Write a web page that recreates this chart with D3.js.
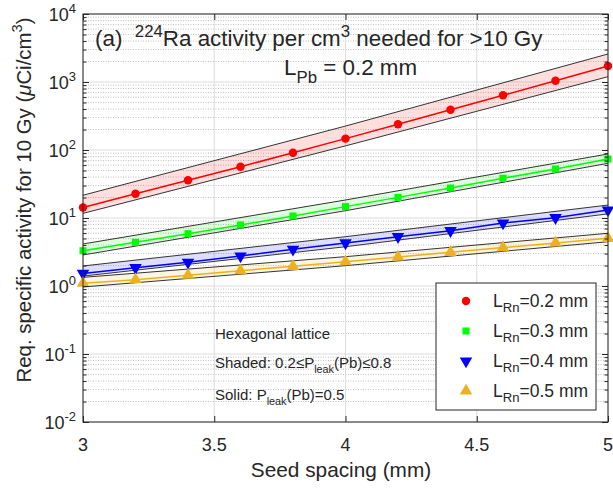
<!DOCTYPE html>
<html>
<head>
<meta charset="utf-8">
<script src="https://cdn.jsdelivr.net/npm/d3@7.9.0/dist/d3.min.js"></script>
<style>
  html, body { margin: 0; padding: 0; background: #fff; }
  svg { display: block; font-family: "Liberation Sans", Arial, Helvetica, sans-serif; }
  text { white-space: pre; fill: #262626; }
</style>
</head>
<body>
<svg id="chart" width="613" height="489"></svg>
<script>
// seed spacing (mm)
const spacing = [3, 3.2, 3.4, 3.6, 3.8, 4, 4.2, 4.4, 4.6, 4.8, 5];

// required activity (uCi/cm3), P_leak(Pb)=0.5
const actRn02 = [14.3, 22.8, 35.8, 56.8, 91.2, 147, 239, 391, 637, 1045, 1718];
const actRn03 = [3.30, 4.39, 5.88, 7.89, 10.7, 14.7, 20.1, 27.6, 38.4, 52.6, 73.7];
const actRn04 = [1.53, 1.86, 2.23, 2.76, 3.47, 4.29, 5.31, 6.50, 8.44, 10.1, 13.1];
const actRn05 = [1.10, 1.24, 1.44, 1.68, 1.95, 2.28, 2.67, 3.13, 3.67, 4.29, 5.03];

// shaded band, P_leak(Pb) from 0.2 to 0.8
const bandSpacing = [3, 4, 5];
const upperRn02 = [21.6, 225, 2580];
const lowerRn02 = [11.7, 115, 1197];
const upperRn03 = [4.15, 18.4, 87.4];
const lowerRn03 = [2.86, 12.8, 63.7];
const upperRn04 = [1.97, 5.31, 15.5];
const lowerRn04 = [1.40, 3.78, 11.5];
const upperRn05 = [1.34, 2.70, 5.96];
const lowerRn05 = [0.967, 1.99, 4.48];

const lRn = ['0.2', '0.3', '0.4', '0.5'];
const colors = ['#ff0000', '#00ff00', '#0000ff', '#edb120'];

const xTicks = [3, 3.5, 4, 4.5, 5];
const yExp = [-2, -1, 0, 1, 2, 3, 4];

const series = [
  { vals: actRn02, up: upperRn02, lo: lowerRn02, sym: 'circle' },
  { vals: actRn03, up: upperRn03, lo: lowerRn03, sym: 'square' },
  { vals: actRn04, up: upperRn04, lo: lowerRn04, sym: 'down' },
  { vals: actRn05, up: upperRn05, lo: lowerRn05, sym: 'up' }
];

const pLeft = 83, pRight = 608, pTop = 14, pBottom = 422;
const svg = d3.select('#chart');

const x = d3.scaleLinear().domain([3, 5]).range([pLeft, pRight]);
const y = d3.scaleLog().domain([1e-2, 1e4]).range([pBottom, pTop]);

const minor = [];
yExp.slice(0, -1).forEach((e) => {
  for (let m = 2; m <= 9; m++) minor.push(m * Math.pow(10, e));
});
const major = yExp.map((e) => Math.pow(10, e));

// grid
const grid = svg.append('g');
grid.selectAll('.ymin').data(minor).join('line')
  .attr('x1', pLeft).attr('x2', pRight)
  .attr('y1', (d) => y(d)).attr('y2', (d) => y(d))
  .attr('stroke', '#c0c0c0').attr('stroke-dasharray', '1,1.5');
grid.selectAll('.ymaj').data(major).join('line')
  .attr('x1', pLeft).attr('x2', pRight)
  .attr('y1', (d) => y(d)).attr('y2', (d) => y(d))
  .attr('stroke', '#dcdcdc');
grid.selectAll('.xmaj').data(xTicks).join('line')
  .attr('x1', (d) => x(d)).attr('x2', (d) => x(d))
  .attr('y1', pTop).attr('y2', pBottom)
  .attr('stroke', '#dcdcdc');

// bands
const area = d3.area()
  .x((d) => x(d[0])).y0((d) => y(d[1])).y1((d) => y(d[2]));
const edge = d3.line().x((d) => x(d[0])).y((d) => y(d[1]));

series.forEach((s, i) => {
  const pts = bandSpacing.map((v, j) => [v, s.lo[j], s.up[j]]);
  svg.append('path').attr('d', area(pts))
    .attr('fill', colors[i]).attr('fill-opacity', 0.13);
  svg.append('path').attr('d', edge(pts.map((p) => [p[0], p[1]])))
    .attr('fill', 'none').attr('stroke', '#333').attr('stroke-width', 1);
  svg.append('path').attr('d', edge(pts.map((p) => [p[0], p[2]])))
    .attr('fill', 'none').attr('stroke', '#333').attr('stroke-width', 1);
});

function symbolPath(kind) {
  if (kind === 'circle') return d3.symbol(d3.symbolCircle, 56)();
  if (kind === 'square') return d3.symbol(d3.symbolSquare, 50)();
  return d3.symbol(d3.symbolTriangle, 68)();
}
function drawMarker(g, kind, cx, cy, color) {
  g.append('path').attr('d', symbolPath(kind))
    .attr('transform', `translate(${cx},${cy})` + (kind === 'down' ? ' rotate(180)' : ''))
    .attr('fill', color);
}

series.forEach((s, i) => {
  const pts = spacing.map((v, j) => [v, s.vals[j]]);
  svg.append('path').attr('d', edge(pts))
    .attr('fill', 'none').attr('stroke', colors[i]).attr('stroke-width', 1.5);
  const g = svg.append('g');
  pts.forEach((p) => drawMarker(g, s.sym, x(p[0]), y(p[1]), colors[i]));
});

// axes: inward ticks on all sides
const axCol = '#262626';
svg.append('g').attr('transform', `translate(${pLeft},0)`)
  .call(d3.axisLeft(y).tickValues(major).tickSize(-6).tickFormat(''));
svg.append('g').attr('transform', `translate(${pLeft},0)`)
  .call(d3.axisLeft(y).tickValues(minor).tickSize(-3.5).tickFormat(''));
svg.append('g').attr('transform', `translate(${pRight},0)`)
  .call(d3.axisRight(y).tickValues(major).tickSize(-6).tickFormat(''));
svg.append('g').attr('transform', `translate(${pRight},0)`)
  .call(d3.axisRight(y).tickValues(minor).tickSize(-3.5).tickFormat(''));
svg.append('g').attr('transform', `translate(0,${pBottom})`)
  .call(d3.axisBottom(x).tickValues(xTicks).tickSize(-6).tickFormat(''));
svg.append('g').attr('transform', `translate(0,${pTop})`)
  .call(d3.axisTop(x).tickValues(xTicks).tickSize(-6).tickFormat(''));
svg.selectAll('.domain').remove();
svg.selectAll('.tick line').attr('stroke', axCol);

svg.append('rect').attr('x', pLeft).attr('y', pTop)
  .attr('width', pRight - pLeft).attr('height', pBottom - pTop)
  .attr('fill', 'none').attr('stroke', axCol).attr('stroke-width', 1);

// rich text helper (sup/sub)
function rich(g, px, py, parts, size, anchor, small) {
  const k = small || 0.72;
  const t = g.append('text').attr('x', px).attr('y', py)
    .attr('font-size', size).attr('text-anchor', anchor || 'start');
  let shift = 0;
  parts.forEach((p) => {
    const target = p.sup ? -0.42 * size : p.sub ? 0.34 * size : 0;
    const ts = t.append('tspan').attr('dy', target - shift)
      .attr('font-size', p.sup || p.sub ? size * k : size).text(p.t);
    if (p.it) ts.attr('font-style', 'italic');
    shift = target;
  });
  return t;
}

// tick labels
xTicks.forEach((v) => {
  svg.append('text').attr('x', x(v)).attr('y', 451)
    .attr('text-anchor', 'middle').attr('font-size', 18).text(v);
});
yExp.forEach((e) => {
  rich(svg, 76, y(Math.pow(10, e)) + 6.5, [{ t: '10' }, { t: String(e), sup: true }], 18, 'end');
});

// axis labels
svg.append('text').attr('x', 341).attr('y', 477)
  .attr('text-anchor', 'middle').attr('font-size', 20.8).text('Seed spacing (mm)');
const yl = svg.append('g').attr('transform', 'translate(31,200) rotate(-90)');
rich(yl, 0, 0, [
  { t: 'Req. specific activity for 10 Gy (' }, { t: 'μ', it: true },
  { t: 'Ci/cm' }, { t: '3', sup: true }, { t: ')' }
], 20.4, 'middle');

// title
rich(svg, 95, 46, [
  { t: '(a)  ' }, { t: '224', sup: true }, { t: 'Ra activity per cm' },
  { t: '3', sup: true }, { t: ' needed for >10 Gy' }
], 22.4, 'start', 0.75);
rich(svg, 284, 75, [{ t: 'L' }, { t: 'Pb', sub: true }, { t: ' = 0.2 mm' }], 22.4, 'start', 0.75);

// annotations
svg.append('text').attr('x', 215).attr('y', 339).attr('font-size', 15).text('Hexagonal lattice');
rich(svg, 215, 368, [
  { t: 'Shaded: 0.2≤P' }, { t: 'leak', sub: true }, { t: '(Pb)≤0.8' }
], 15);
rich(svg, 215, 400, [
  { t: 'Solid: P' }, { t: 'leak', sub: true }, { t: '(Pb)=0.5' }
], 15);

// legend
const lg = svg.append('g');
lg.append('rect').attr('x', 436).attr('y', 283).attr('width', 160).attr('height', 127)
  .attr('fill', '#fff').attr('stroke', axCol).attr('stroke-width', 1);
const rowY = d3.scalePoint().domain(lRn).range([301, 391]);
lRn.forEach((l, i) => {
  drawMarker(lg, series[i].sym, 466, rowY(l), colors[i]);
  rich(lg, 493, rowY(l) + 5.5, [{ t: 'L' }, { t: 'Rn', sub: true }, { t: '=' + l + ' mm' }], 17.5, 'start', 0.75);
});
</script>
</body>
</html>
